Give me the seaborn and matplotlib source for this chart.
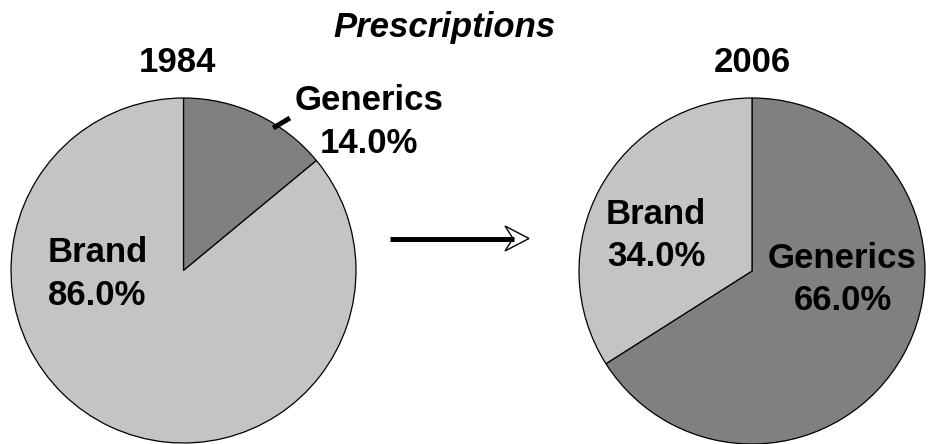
import matplotlib
matplotlib.use("Agg")
import matplotlib.pyplot as plt
from matplotlib.patches import Polygon
import seaborn as sns

# Share of prescriptions, generics vs. brand-name drugs
segments = ["Generics", "Brand"]
years = ["1984", "2006"]
share_1984 = [14.0, 86.0]
share_2006 = [66.0, 34.0]
title = "Prescriptions"

sns.set_theme(style="white")
plt.rcParams["font.family"] = ["Liberation Sans", "DejaVu Sans"]
plt.rcParams["text.color"] = "black"

palette = {"Generics": "#808080", "Brand": "#c4c4c4"}

W, H = 929, 444
fig = plt.figure(figsize=(W / 100, H / 100), dpi=100)


def px_axes(x, y, w, h):
    """Add axes from a pixel box measured from the top-left corner."""
    return fig.add_axes([x / W, 1 - (y + h) / H, w / W, h / H])


def draw_pie(ax, values, label_pos):
    wedges, _ = ax.pie(
        values,
        colors=[palette[s] for s in segments],
        startangle=90,
        counterclock=False,
        radius=1.0,
        wedgeprops=dict(edgecolor="black", linewidth=0.9),
    )
    ax.set_xlim(-1, 1)
    ax.set_ylim(-1, 1)
    ax.set_aspect("equal")
    ax.axis("off")
    for name, val in zip(segments, values):
        x, y = label_pos[name]
        ax.text(x, y, f"{name}\n{val:.1f}%", ha="center", va="center",
                fontsize=25, fontweight="bold", linespacing=1.36,
                color="black", clip_on=False)
    return wedges


ax1 = px_axes(11, 98, 345, 345)
draw_pie(ax1, share_1984, {"Generics": (1.075, 0.86), "Brand": (-0.50, -0.02)})
# leader from the small slice to its label
ax1.plot([0.52, 0.617], [0.826, 0.884], color="black", lw=3.6,
         solid_capstyle="butt", clip_on=False)

ax2 = px_axes(579, 98, 346, 346)
draw_pie(ax2, share_2006, {"Generics": (0.523, -0.05), "Brand": (-0.555, 0.205)})

# year headings and title
fig.text(177 / W, 1 - 62 / H, years[0], ha="center", va="center",
         fontsize=25, fontweight="bold", color="black")
fig.text(752 / W, 1 - 62 / H, years[1], ha="center", va="center",
         fontsize=25, fontweight="bold", color="black")
fig.text(445 / W, 1 - 28 / H, title, ha="center", va="center",
         fontsize=25, fontweight="bold", fontstyle="italic", color="black")

# arrow between the two pies
arrow_ax = fig.add_axes([0, 0, 1, 1], facecolor="none")
arrow_ax.set_xlim(0, W)
arrow_ax.set_ylim(H, 0)
arrow_ax.axis("off")
arrow_ax.plot([390, 514], [238.5, 238.5], color="black", lw=3.6,
              solid_capstyle="butt")
arrow_ax.add_patch(Polygon([(505, 226), (529, 238.5), (505, 251), (513, 238.5)],
                           closed=True, facecolor="white", edgecolor="black",
                           linewidth=1.0))

fig.savefig("out.png", dpi=100)
